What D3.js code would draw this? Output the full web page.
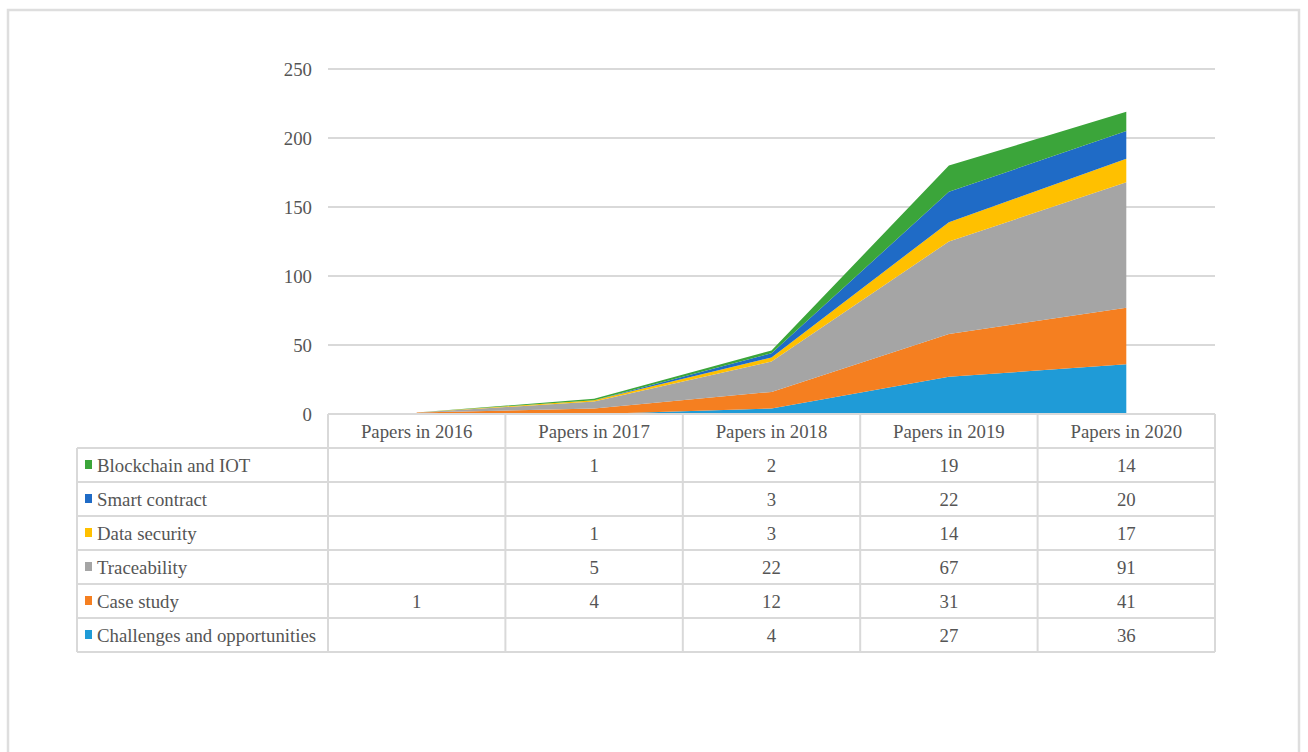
<!DOCTYPE html>
<html>
<head>
<meta charset="utf-8">
<script src="https://cdn.jsdelivr.net/npm/d3@7"></script>
<style>
  html, body { margin: 0; padding: 0; background: #fff; }
  svg { display: block; font-family: 'Liberation Serif', 'Times New Roman', serif; }
</style>
</head>
<body>
<svg id="chart" width="1308" height="752"></svg>
<script>
const years = ['Papers in 2016', 'Papers in 2017', 'Papers in 2018', 'Papers in 2019', 'Papers in 2020']
// bottom to top of the stack
const seriesNames = ['Challenges and opportunities', 'Case study', 'Traceability', 'Data security', 'Smart contract', 'Blockchain and IOT']
const seriesColors = ['#1f9bd7', '#f57f20', '#a5a5a5', '#ffc000', '#1f6bc6', '#3ba53a']
const challenges = [null, null, 4, 27, 36]
const caseStudy = [1, 4, 12, 31, 41]
const traceability = [null, 5, 22, 67, 91]
const dataSecurity = [null, 1, 3, 14, 17]
const smartContract = [null, null, 3, 22, 20]
const blockchainIot = [null, 1, 2, 19, 14]
const yTicks = [0, 50, 100, 150, 200, 250]

const seriesValues = [challenges, caseStudy, traceability, dataSecurity, smartContract, blockchainIot]
const rows = years.map((yr, i) => {
  const r = { year: yr }
  seriesNames.forEach((s, j) => { r[s] = seriesValues[j][i] || 0 })
  return r
})

const svg = d3.select('#chart')
const textColor = '#555555'
const lineColor = '#d9d9d9'
const fontSize = '18.8px'

// outer frame
svg.append('rect')
  .attr('x', 8).attr('y', 10).attr('width', 1291).attr('height', 760)
  .attr('fill', 'none').attr('stroke', '#dedede').attr('stroke-width', 2.5)

const plotLeft = 328, plotRight = 1215
const plotTop = 69, zeroY = 414
const rowH = 34
const labelLeft = 77

const x = d3.scaleBand().domain(years).range([plotLeft, plotRight]).padding(0)
const xc = (yr) => x(yr) + x.bandwidth() / 2
const y = d3.scaleLinear().domain([0, 250]).range([zeroY, plotTop])

// gridlines
svg.append('g').selectAll('line')
  .data(yTicks.filter(d => d > 0)).enter()
  .append('line')
  .attr('x1', plotLeft).attr('x2', plotRight)
  .attr('y1', d => y(d)).attr('y2', d => y(d))
  .attr('stroke', lineColor).attr('stroke-width', 2)

// y axis labels
const gAxis = svg.append('g')
  .attr('transform', `translate(${plotLeft - 16}, 0)`)
  .call(d3.axisLeft(y).tickValues(yTicks).tickSize(0).tickPadding(0))
gAxis.select('.domain').remove()
gAxis.selectAll('text')
  .style('font-family', "'Liberation Serif', serif")
  .style('font-size', fontSize)
  .attr('fill', textColor)

// stacked areas
const stack = d3.stack().keys(seriesNames)
const stacked = stack(rows)
const area = d3.area()
  .x(d => xc(d.data.year))
  .y0(d => y(d[0]))
  .y1(d => y(d[1]))

svg.append('g').selectAll('path')
  .data(stacked).enter()
  .append('path')
  .attr('d', area)
  .attr('fill', (d, i) => seriesColors[i])

// data table
const gTable = svg.append('g')
const tableRows = seriesNames.map((s, j) => ({ name: s, color: seriesColors[j], values: seriesValues[j] })).reverse()
const tableBottom = zeroY + rowH * (tableRows.length + 1)

gTable.append('line')
  .attr('x1', plotLeft).attr('x2', plotRight).attr('y1', zeroY).attr('y2', zeroY)
  .attr('stroke', lineColor).attr('stroke-width', 2)
d3.range(1, tableRows.length + 2).forEach(i => {
  gTable.append('line')
    .attr('x1', labelLeft).attr('x2', plotRight)
    .attr('y1', zeroY + i * rowH).attr('y2', zeroY + i * rowH)
    .attr('stroke', lineColor).attr('stroke-width', 2)
})
gTable.append('line')
  .attr('x1', labelLeft).attr('x2', labelLeft).attr('y1', zeroY + rowH).attr('y2', tableBottom)
  .attr('stroke', lineColor).attr('stroke-width', 2)
years.concat(['end']).forEach((yr) => {
  const xx = yr === 'end' ? plotRight : x(yr)
  gTable.append('line')
    .attr('x1', xx).attr('x2', xx).attr('y1', zeroY).attr('y2', tableBottom)
    .attr('stroke', lineColor).attr('stroke-width', 2)
})

// header
gTable.selectAll('text.header')
  .data(years).enter()
  .append('text')
  .classed('header', true)
  .attr('x', d => xc(d))
  .attr('y', zeroY + rowH / 2)
  .attr('dy', '0.35em')
  .attr('text-anchor', 'middle')
  .style('font-size', fontSize)
  .attr('fill', textColor)
  .text(d => d)

const gRows = gTable.selectAll('g.row')
  .data(tableRows).enter()
  .append('g')
  .classed('row', true)
  .attr('transform', (d, i) => `translate(0, ${zeroY + (i + 1) * rowH})`)

gRows.append('rect')
  .attr('x', 85).attr('y', rowH / 2 - 5)
  .attr('width', 7).attr('height', 9)
  .attr('fill', d => d.color)

gRows.append('text')
  .attr('x', 97)
  .attr('y', rowH / 2)
  .attr('dy', '0.35em')
  .style('font-size', fontSize)
  .attr('fill', textColor)
  .text(d => d.name)

gRows.selectAll('text.val')
  .data(d => d.values.map((v, i) => ({ v, yr: years[i] }))).enter()
  .append('text')
  .classed('val', true)
  .attr('x', d => xc(d.yr))
  .attr('y', rowH / 2)
  .attr('dy', '0.35em')
  .attr('text-anchor', 'middle')
  .style('font-size', fontSize)
  .attr('fill', textColor)
  .text(d => d.v === null ? '' : d.v)
</script>
</body>
</html>
